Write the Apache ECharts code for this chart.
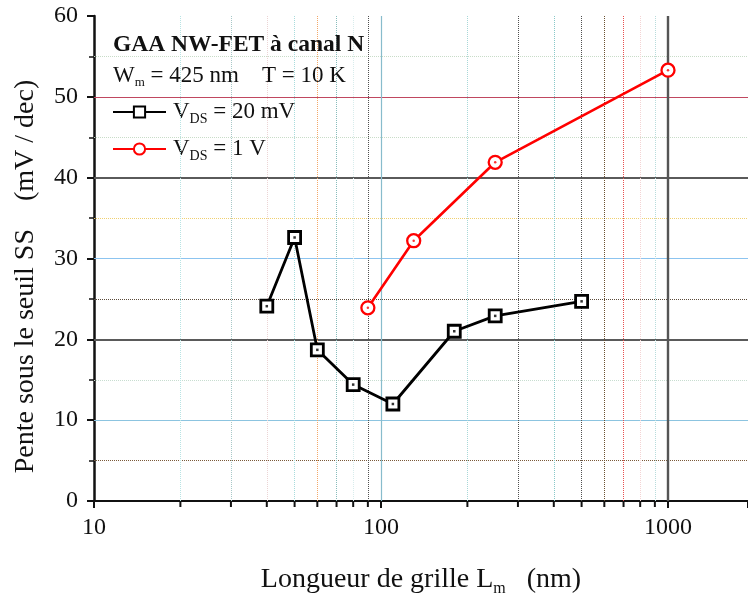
<!DOCTYPE html>
<html><head><meta charset="utf-8">
<script src="https://cdn.jsdelivr.net/npm/echarts@6/dist/echarts.min.js"></script>
<style>html,body{margin:0;padding:0;background:#fff}#c{width:748px;height:594px}</style>
</head><body><div id="c"></div>
<script>
// ---- data ----
const seriesNames = ['V_DS = 20 mV', 'V_DS = 1 V'];
const blackX = [40, 50, 60, 80, 110, 180, 250, 500];
const blackY = [24.1, 32.6, 18.7, 14.4, 12.0, 21.0, 22.9, 24.7];
const redX = [90, 130, 250, 1000];
const redY = [23.9, 32.2, 41.9, 53.3];
const xTickLabels = ['10', '100', '1000'];
const yTickLabels = ['0', '10', '20', '30', '40', '50', '60'];
const xMinorTicks = [20, 30, 40, 50, 60, 70, 80, 90, 200, 300, 400, 500, 600, 700, 800, 900];
// grid lines (value, colour, width, type)
const hGridVals = [5, 10, 15, 20, 25, 30, 35, 40, 45, 50, 55];
const hGridColors = ['#7a5a3a', '#8cc4e0', '#c8ddd0', '#5a5a5a', '#5a4a3a', '#8cc4f0', '#f0d070', '#5a5a5a', '#c8dcc8', '#c04860', '#c8dcc8'];
const hGridWidths = [1, 1.2, 1, 2.2, 1, 1.2, 1, 2.2, 1, 1.2, 1];
const hGridTypes = ['dotted', 'solid', 'dotted', 'solid', 'dotted', 'solid', 'dotted', 'solid', 'dotted', 'solid', 'dotted'];
const vGridVals = [20, 30, 40, 50, 60, 70, 80, 90, 100, 200, 300, 400, 500, 600, 700, 800, 900, 1000];
const vGridColors = ['#b8e4e4', '#a8c8c8', '#ecd4d4', '#a8dcdc', '#f4a868', '#88bcbc', '#d8ecec', '#505050', '#88bccc', '#a8d8d8', '#505050', '#88c8c8', '#505050', '#6a5030', '#e85050', '#f4d4d4', '#b8dcdc', '#555555'];
const vGridWidths = [1, 1, 1, 1, 1, 1, 1, 1, 1.2, 1, 1, 1, 1, 1, 1, 1, 1, 2.4];
const vGridTypes = ['dotted', 'dotted', 'dotted', 'dotted', 'dotted', 'dotted', 'dotted', 'dotted', 'solid', 'dotted', 'dotted', 'dotted', 'dotted', 'dotted', 'dotted', 'dotted', 'dotted', 'solid'];

const serif = 'Liberation Serif';
const blackData = blackX.map((x, i) => [x, blackY[i]]);
const redData = redX.map((x, i) => [x, redY[i]]);

const gridMarks = [];
hGridVals.forEach((v, i) => gridMarks.push({yAxis: v, lineStyle: {color: hGridColors[i], width: hGridWidths[i], type: hGridTypes[i]}}));
vGridVals.forEach((v, i) => gridMarks.push({xAxis: v, lineStyle: {color: vGridColors[i], width: vGridWidths[i], type: vGridTypes[i]}}));

const subRich = {
  v: {fontFamily: serif, fontSize: 23, color: '#111', lineHeight: 26},
  s: {fontFamily: serif, fontSize: 14, color: '#111', padding: [14, 0, 0, 0], lineHeight: 26}
};
function richName(n) {
  const m = n.match(/^V_DS(.*)$/);
  return '{v|V}{s|DS}{v|' + m[1] + '}';
}

const chart = echarts.init(document.getElementById('c'), null, {renderer: 'canvas'});
chart.setOption({
  animation: false,
  backgroundColor: '#fff',
  grid: {left: 94, right: 0, top: 16, bottom: 93, containLabel: false, outerBoundsMode: 'none'},
  xAxis: {
    type: 'log', logBase: 10, min: 10, max: 1900,
    name: '{a|Longueur de grille L}{s|m}{a|   (nm)}',
    nameLocation: 'middle', nameGap: 62,
    nameTextStyle: {rich: {a: {fontFamily: serif, fontSize: 28, color: '#111'}, s: {fontFamily: serif, fontSize: 16, color: '#111', padding: [18, 0, 0, 0]}}},
    axisLine: {show: true, onZero: false, lineStyle: {color: '#111', width: 2}},
    axisTick: {show: true, inside: false, length: 7, lineStyle: {color: '#111', width: 2}},
    axisLabel: {fontFamily: serif, fontSize: 24, color: '#111', margin: 15,
      formatter: v => { const s = String(Math.round(v)); return xTickLabels.indexOf(s) >= 0 ? s : ''; }},
    splitLine: {show: false}, minorTick: {show: false}
  },
  yAxis: {
    type: 'value', min: 0, max: 60, interval: 10,
    name: 'Pente sous le seuil SS    (mV / dec)',
    nameLocation: 'middle', nameGap: 54,
    nameTextStyle: {fontFamily: serif, fontSize: 28, color: '#111', padding: [0, 36, 0, 0]},
    axisLine: {show: true, lineStyle: {color: '#111', width: 2.5}},
    axisTick: {show: true, inside: false, length: 7, lineStyle: {color: '#111', width: 2}},
    minorTick: {show: true, splitNumber: 2, length: 5, lineStyle: {color: '#111', width: 1.5}},
    axisLabel: {fontFamily: serif, fontSize: 24, color: '#111', margin: 16,
      formatter: v => yTickLabels[Math.round(v / 10)]},
    splitLine: {show: false}
  },
  legend: {
    data: seriesNames, orient: 'vertical', left: 112, top: 98, itemGap: 9, padding: 0,
    itemWidth: 53, itemHeight: 14,
    formatter: n => richName(n),
    textStyle: {rich: subRich, padding: [0, 0, 0, 2]}
  },
  graphic: [
    {type: 'text', left: 113, top: 33, z: 10,
      style: {text: 'GAA NW-FET à canal N', font: 'bold 23.5px "Liberation Serif"', fill: '#111'}},
    {type: 'text', left: 113, top: 64, z: 10,
      style: {text: '{a|W}{s|m}{a| = 425 nm    T = 10 K}',
        rich: {a: {fontFamily: serif, fontSize: 23, fill: '#111'}, s: {fontFamily: serif, fontSize: 13, fill: '#111', padding: [15, 0, 0, 0]}}}}
  ],
  series: [
    {type: 'line', name: 'grid', data: [], silent: true, z: 1,
      markLine: {silent: true, symbol: 'none', label: {show: false}, data: gridMarks, animation: false}},
    {type: 'custom', name: 'minorTicks', silent: true, z: 3, clip: false,
      data: xMinorTicks.map(v => [v, 0]),
      renderItem: (params, api) => {
        const p = api.coord([api.value(0), api.value(1)]);
        return {type: 'line', shape: {x1: p[0], y1: p[1], x2: p[0], y2: p[1] + 6}, style: {stroke: '#111', lineWidth: 2}};
      }},
    {type: 'line', name: seriesNames[0], data: blackData, z: 5,
      lineStyle: {color: '#000', width: 2.8},
      symbol: 'rect', symbolSize: 12, showAllSymbol: true,
      itemStyle: {color: '#fff', borderColor: '#000', borderWidth: 2.8}},
    {type: 'scatter', name: 'dots20', data: blackData, z: 6, silent: true,
      symbol: 'rect', symbolSize: 2.5, itemStyle: {color: '#000'}},
    {type: 'line', name: seriesNames[1], data: redData, z: 5,
      lineStyle: {color: '#ff0000', width: 2.6},
      symbol: 'circle', symbolSize: 13, showAllSymbol: true,
      itemStyle: {color: '#fff', borderColor: '#ff0000', borderWidth: 2.3}},
    {type: 'scatter', name: 'dots1', data: redData, z: 6, silent: true,
      symbol: 'circle', symbolSize: 2.5, itemStyle: {color: '#ff0000'}}
  ]
});
</script></body></html>
